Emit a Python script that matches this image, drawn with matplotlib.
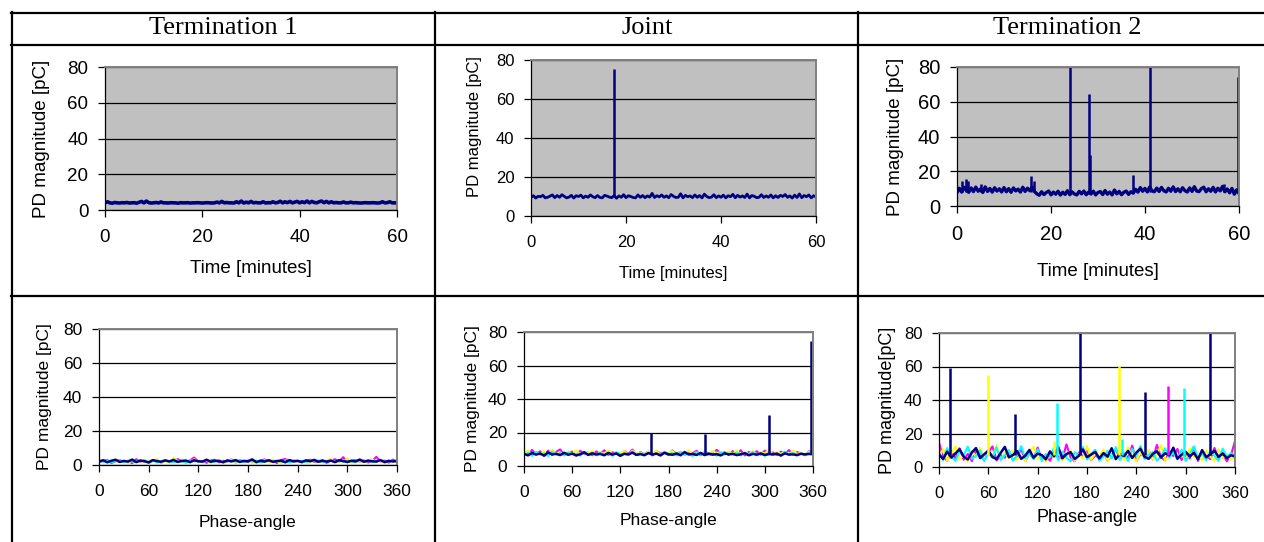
import numpy as np
import matplotlib
matplotlib.use("Agg")
import matplotlib.pyplot as plt
from matplotlib.lines import Line2D

plt.rcParams["font.family"] = ["Liberation Sans", "DejaVu Sans"]

W, H = 1264, 542

headers = ["Termination 1", "Joint", "Termination 2"]

# ---- top row: PD magnitude against time, one sample every 0.5 min ----
time_grid = np.linspace(0, 60, 121)

t1_time_pd = [
    4.0, 4.6, 4.0, 3.8, 4.2, 4.0, 3.9, 4.1, 4.0, 4.2,
    3.9, 4.0, 4.1, 3.8, 4.3, 4.8, 4.0, 5.0, 4.1, 3.9,
    4.0, 4.2, 3.9, 4.5, 4.0, 4.0, 3.9, 4.1, 4.0, 4.0,
    3.8, 4.1, 4.0, 4.0, 4.1, 3.9, 4.0, 4.0, 4.1, 4.0,
    3.9, 4.0, 4.1, 4.0, 3.9, 4.0, 4.4, 4.0, 4.8, 4.0,
    4.2, 4.0, 4.0, 3.9, 4.6, 4.0, 5.0, 3.9, 4.4, 4.0,
    4.8, 4.0, 4.2, 4.0, 4.0, 4.6, 3.9, 4.1, 4.0, 4.6,
    4.0, 4.2, 4.9, 4.0, 4.6, 4.1, 4.8, 4.0, 4.4, 4.8,
    4.0, 4.6, 4.1, 5.0, 4.0, 4.8, 4.2, 4.0, 4.6, 5.0,
    4.1, 4.8, 4.0, 4.6, 4.0, 4.2, 4.0, 4.0, 4.5, 4.0,
    4.0, 4.4, 4.0, 4.1, 4.0, 3.9, 4.0, 4.1, 4.0, 4.0,
    4.1, 4.0, 3.9, 4.0, 4.6, 4.0, 4.1, 4.6, 4.0, 4.0,
    4.0,
]

joint_time_pd = [
    9.5, 10.4, 9.2, 10.1, 9.9, 10.6, 9.3, 9.6, 10.2, 10.8,
    9.4, 10.5, 9.6, 10.9, 10.1, 9.3, 9.7, 10.6, 9.2, 10.4,
    10.0, 10.7, 9.3, 10.2, 9.6, 10.8, 9.9, 9.4, 10.5, 9.5,
    9.3, 10.6, 10.2, 9.7, 9.4, 10.5, 9.1, 10.3, 9.6, 10.9,
    9.4, 10.4, 10.0, 9.5, 9.3, 10.8, 9.6, 10.5, 9.4, 10.3,
    9.7, 11.6, 9.5, 10.4, 9.8, 10.8, 9.6, 10.3, 9.4, 11.0,
    10.1, 9.5, 9.6, 11.4, 9.3, 10.6, 9.9, 10.3, 9.4, 10.8,
    9.6, 10.5, 9.3, 11.2, 10.0, 9.4, 9.7, 10.9, 9.4, 10.3,
    9.6, 10.7, 9.3, 10.4, 9.9, 11.1, 9.4, 10.6, 9.7, 10.3,
    9.5, 11.2, 9.3, 10.5, 10.1, 9.4, 9.6, 10.9, 9.5, 10.3,
    9.6, 10.8, 9.3, 10.4, 9.5, 10.6, 10.0, 11.0, 9.6, 10.3,
    9.2, 10.7, 9.5, 11.3, 9.4, 10.5, 9.9, 10.8, 9.3, 10.4,
    9.8,
]
joint_spike_t = [17.45]
joint_spike_pd = [75.5]
joint_time_base = 10

t2_time_pd = [
    7.8, 10.2, 8.0, 10.8, 9.0, 7.9, 10.4, 8.3, 10.9, 8.5,
    9.8, 7.8, 11.0, 8.4, 10.1, 8.0, 10.5, 8.6, 9.9, 8.1,
    10.6, 8.2, 10.0, 7.9, 10.4, 8.7, 9.7, 8.0, 10.8, 8.4,
    10.2, 8.8, 10.9, 8.3, 7.0,
    6.2, 8.2, 6.6, 7.8, 8.6, 6.4, 8.0, 6.8, 8.5, 6.3,
    7.9, 6.7, 8.8, 6.5, 8.1, 6.9, 6.4, 8.4, 7.0, 8.6,
    6.5, 8.0, 6.9, 8.5, 6.4, 7.8, 8.3, 6.6, 8.9, 6.8,
    8.0, 6.4, 9.2, 7.0, 8.4, 6.5, 7.9, 8.6, 6.7, 8.2,
    7.4,
    9.6, 8.0, 10.6, 8.5, 10.1, 8.1, 10.9, 8.7, 8.2, 10.3,
    8.4, 10.7, 8.8, 8.1, 10.2, 8.5, 11.0, 8.3, 9.9, 8.2,
    10.5, 8.8, 8.1, 10.4, 8.4, 11.1, 8.6, 8.3, 10.0, 10.8,
    8.2, 9.9, 8.5, 10.7, 8.1, 10.2, 8.7, 11.3, 8.2, 9.8,
    7.6, 10.1, 6.8, 9.3, 7.2,
]
t2_spike_t = [1.0, 1.9, 2.3, 5.2, 15.7, 16.4, 24.0, 28.1, 28.4, 37.5,
              41.0, 56.9, 59.85, 59.95, 60.0]
t2_spike_pd = [14.5, 15.5, 14.5, 12.5, 17.5, 14.5, 82, 64.5, 29.5, 18,
               82, 12.5, 74, 60, 26]
t2_time_base = 8

# ---- bottom row: PD magnitude against phase angle, every 5 degrees ----
phase_grid = np.linspace(0, 360, 73)

t1_phase = {
    "magenta": [
        1.5, 2.4, 3.0, 1.2, 2.2, 2.8, 1.6, 2.5, 1.1, 3.4,
        2.0, 2.7, 1.4, 2.3, 3.0, 1.3, 2.6, 2.1, 1.7, 3.5,
        2.2, 1.5, 2.8, 4.4, 1.9, 2.4, 1.3, 2.7, 3.1, 1.6,
        2.5, 2.0, 3.2, 1.4, 2.8, 2.2, 1.8, 3.0, 1.5, 2.6,
        3.3, 1.9, 2.4, 1.2, 2.9, 3.6, 1.7, 2.3, 2.7, 1.4,
        2.5, 3.1, 1.8, 2.2, 2.9, 1.3, 2.6, 3.4, 2.0, 4.6,
        1.6, 2.4, 3.0, 1.9, 2.7, 1.5, 2.3, 4.8, 2.1, 2.6,
        1.4, 3.2, 2.0],
    "yellow": [
        1.8, 2.9, 1.3, 2.5, 3.3, 1.6, 2.2, 1.0, 2.8, 1.9,
        3.1, 1.5, 2.6, 2.0, 3.6, 1.4, 2.4, 1.2, 4.2, 2.3,
        1.7, 2.8, 1.3, 3.4, 2.1, 1.8, 2.7, 1.1, 2.5, 3.2,
        1.6, 2.3, 2.9, 1.4, 2.6, 1.9, 3.0, 1.2, 2.4, 1.7,
        2.8, 1.5, 3.3, 2.2, 1.3, 2.7, 1.8, 2.5, 3.1, 1.6,
        2.3, 1.4, 2.9, 2.0, 1.7, 2.6, 3.5, 1.5, 2.2, 1.9,
        3.8, 1.3, 2.7, 2.1, 1.6, 2.4, 3.2, 1.8, 2.5, 1.2,
        2.8, 1.9, 2.2],
    "cyan": [
        2.4, 1.9, 2.7, 1.6, 2.3, 2.9, 1.8, 2.5, 2.1, 1.7,
        2.8, 2.2, 1.9, 2.6, 1.5, 2.4, 2.7, 2.0, 1.8, 2.5,
        2.3, 1.6, 2.9, 2.1, 2.4, 1.7, 2.6, 2.2, 1.9, 2.8,
        1.6, 2.3, 2.5, 2.0, 2.7, 1.8, 2.4, 2.1, 2.6, 1.7,
        2.2, 2.9, 1.9, 2.5, 2.0, 2.3, 1.6, 2.8, 2.2, 2.4,
        1.8, 2.6, 2.1, 2.7, 1.9, 2.3, 2.5, 1.7, 2.4, 2.0,
        2.6, 2.2, 1.8, 2.9, 2.1, 2.5, 1.7, 2.3, 2.6, 1.9,
        2.2, 2.4, 2.0],
    "navy": [
        2.1, 2.8, 1.6, 2.5, 3.1, 1.8, 2.4, 2.0, 3.2, 1.7,
        2.6, 2.2, 1.5, 2.9, 2.3, 1.9, 2.7, 2.1, 3.0, 1.8,
        2.4, 2.6, 1.7, 2.8, 2.2, 2.0, 3.1, 1.9, 2.5, 2.3,
        1.6, 2.7, 2.1, 2.9, 1.8, 2.4, 2.2, 3.3, 1.7, 2.5,
        2.0, 2.8, 1.9, 2.3, 2.6, 1.6, 2.9, 2.1, 2.4, 1.8,
        2.7, 2.2, 3.0, 1.9, 2.5, 2.0, 2.6, 1.7, 2.8, 2.3,
        1.8, 2.5, 2.1, 3.2, 1.9, 2.6, 2.2, 2.0, 2.9, 1.7,
        2.4, 2.1, 2.3],
}

joint_phase = {
    "magenta": [
        8.1, 6.3, 9.6, 7.0, 8.8, 6.1, 9.2, 6.6, 8.4, 9.9,
        6.5, 7.8, 8.6, 6.2, 9.1, 7.3, 8.0, 6.4, 8.7, 7.1,
        9.4, 6.6, 8.2, 7.5, 6.0, 8.9, 7.2, 9.8, 6.7, 8.3,
        7.0, 8.6, 6.3, 9.0, 7.4, 8.1, 6.5, 9.3, 7.1, 8.5,
        6.8, 8.0, 7.6, 9.1, 6.4, 8.7, 7.2, 6.9, 9.6, 7.5,
        8.2, 6.6, 8.9, 7.0, 9.4, 6.3, 8.4, 7.3, 8.8, 6.7,
        9.2, 7.4, 8.1, 6.5, 8.6, 7.1, 9.5, 6.8, 8.3, 7.6,
        6.4, 8.8, 7.9],
    "yellow": [
        7.8, 9.2, 6.4, 8.5, 7.1, 8.9, 6.2, 9.7, 7.4, 8.1,
        6.6, 8.7, 7.3, 9.4, 6.8, 8.2, 7.6, 9.0, 6.3, 8.4,
        7.0, 9.6, 6.7, 8.3, 7.5, 8.8, 6.5, 9.1, 7.2, 8.0,
        6.9, 8.6, 7.4, 9.3, 6.4, 8.1, 7.7, 8.9, 6.6, 8.4,
        7.1, 9.5, 6.8, 8.2, 7.3, 8.7, 6.5, 9.0, 7.6, 8.3,
        6.9, 8.8, 7.2, 9.4, 6.3, 8.5, 7.0, 8.9, 6.7, 8.1,
        7.5, 9.7, 6.6, 8.4, 7.3, 8.6, 6.4, 9.2, 7.1, 8.0,
        6.8, 8.5, 7.4],
    "cyan": [
        6.5, 7.9, 6.1, 8.3, 6.8, 7.5, 6.0, 8.6, 6.7, 7.7,
        6.3, 8.1, 7.0, 7.4, 6.2, 8.4, 6.9, 7.6, 6.4, 8.0,
        6.6, 7.8, 6.1, 8.2, 7.1, 7.3, 6.5, 8.5, 6.8, 7.6,
        6.2, 8.0, 6.9, 7.5, 6.4, 8.3, 7.0, 7.7, 6.3, 8.1,
        6.7, 7.4, 6.0, 8.4, 6.8, 7.9, 6.5, 7.6, 6.2, 8.2,
        7.0, 7.5, 6.6, 8.0, 6.3, 7.8, 6.9, 8.3, 6.4, 7.7,
        6.1, 8.1, 6.7, 7.4, 6.5, 8.6, 6.8, 7.9, 6.3, 7.6,
        6.6, 8.0, 6.9],
    "navy": [
        7.2, 6.4, 7.8, 6.8, 7.5, 6.2, 8.1, 6.9, 7.3, 6.5,
        7.9, 6.7, 7.4, 6.3, 7.0, 8.2, 6.6, 7.6, 6.9, 7.2,
        6.4, 7.8, 6.8, 7.5, 6.1, 7.3, 6.9, 8.0, 6.6, 7.1,
        6.5, 7.7, 6.8, 7.4, 6.3, 7.9, 7.0, 6.7, 7.5, 6.4,
        8.3, 6.9, 7.2, 6.6, 7.8, 6.5, 7.4, 6.8, 7.1, 6.3,
        7.6, 6.9, 7.3, 6.5, 7.0, 7.7, 6.4, 7.2, 6.8, 7.5,
        6.6, 7.1, 6.9, 7.4, 6.2, 7.6, 6.8, 7.0, 6.5, 7.3,
        6.9, 7.2, 7.0],
}
joint_phase_spikes = {"navy": ([158, 226, 305, 358], [20, 19, 30.5, 74.5])}
joint_phase_base = 7

t2_phase = {
    "magenta": [
        14.5, 6.2, 3.8, 9.5, 5.1, 11.2, 4.3, 7.8, 3.5, 10.1,
        6.7, 4.2, 8.9, 12.3, 3.9, 7.1, 5.5, 9.8, 4.0, 6.4,
        10.7, 3.6, 8.2, 5.0, 11.6, 4.4, 7.5, 3.7, 9.1, 6.0,
        4.8, 13.5, 5.7, 3.4, 8.6, 6.3, 10.4, 4.1, 7.0, 5.2,
        9.3, 3.8, 6.8, 11.0, 4.6, 8.0, 5.4, 12.8, 3.5, 7.7,
        6.1, 9.9, 4.5, 13.2, 5.8, 3.9, 8.4, 6.6, 10.8, 4.2,
        7.3, 5.1, 12.1, 3.6, 9.0, 6.5, 4.7, 11.4, 5.3, 8.1,
        3.4, 6.9, 15.5],
    "yellow": [
        5.5, 10.8, 3.9, 8.0, 12.4, 4.6, 7.2, 3.3, 9.6, 5.9,
        11.5, 4.1, 7.7, 6.3, 13.0, 3.8, 8.8, 5.2, 10.1, 4.4,
        6.9, 3.5, 9.3, 12.0, 4.9, 7.4, 3.2, 8.5, 5.6, 11.1,
        4.0, 6.6, 9.9, 3.6, 7.9, 5.0, 12.6, 4.3, 8.2, 6.1,
        10.5, 3.7, 7.1, 5.4, 9.4, 4.2, 11.8, 6.8, 3.4, 8.7,
        5.3, 10.2, 4.5, 7.6, 12.9, 3.9, 6.4, 9.1, 4.8, 8.3,
        3.5, 11.0, 5.7, 7.0, 4.1, 9.8, 6.2, 3.6, 10.6, 5.1,
        7.8, 4.4, 9.0],
    "cyan": [
        8.6, 4.1, 11.3, 6.0, 3.7, 9.4, 7.2, 12.2, 4.8, 6.5,
        10.0, 3.5, 8.3, 5.6, 11.7, 4.3, 7.0, 9.9, 3.9, 6.8,
        12.5, 5.2, 8.1, 4.6, 10.6, 3.6, 7.5, 6.2, 11.4, 4.0,
        9.2, 5.7, 3.4, 8.8, 6.9, 12.0, 4.5, 7.8, 10.3, 3.8,
        6.4, 9.6, 5.1, 11.9, 4.2, 8.5, 3.5, 10.8, 6.6, 12.6,
        4.7, 7.3, 9.0, 3.9, 6.1, 11.2, 5.5, 8.9, 4.4, 10.4,
        3.7, 7.6, 12.3, 5.0, 8.2, 4.1, 9.5, 6.7, 3.6, 11.0,
        5.8, 8.4, 4.9],
    "navy": [
        7.5, 4.8, 9.2, 5.6, 8.1, 10.6, 6.2, 4.5, 8.7, 11.3,
        5.3, 7.6, 9.8, 6.0, 4.7, 8.4, 12.0, 5.8, 7.2, 9.5,
        4.9, 6.8, 10.2, 5.5, 8.0, 7.1, 4.6, 9.3, 6.4, 11.8,
        5.2, 7.7, 8.9, 4.8, 6.6, 10.5, 5.9, 7.4, 9.0, 5.1,
        8.3, 6.2, 11.2, 4.7, 7.9, 6.5, 9.6, 5.4, 8.6, 10.9,
        6.1, 4.9, 7.8, 9.4, 5.7, 8.2, 6.9, 11.5, 5.0, 7.3,
        9.1, 6.3, 8.5, 4.6, 10.1, 5.8, 7.6, 9.7, 6.0, 8.1,
        5.3, 7.0, 6.4],
}
t2_phase_spikes = {
    "yellow": ([60, 140, 219], [55, 15.5, 60.5]),
    "cyan": ([143, 222, 298], [38.5, 16.5, 47]),
    "magenta": ([278], [48.5]),
    "navy": ([13, 93, 172, 250, 329], [59, 31.5, 82, 44.5, 82]),
}
t2_phase_base = 7

colors = {"magenta": "#FF00FF", "yellow": "#FFFF00", "cyan": "#00FFFF", "navy": "#000080"}
series_order = ["magenta", "yellow", "cyan", "navy"]


def add_axes_px(fig, left, top, right, bottom):
    return fig.add_axes([left / W, 1 - bottom / H, (right - left) / W, (bottom - top) / H])


def style_axes(ax, grey_bg, xticks, tick_fs, label_fs, xlabel, ylabel, xlab_y, ylab_x, ylab_y):
    ax.set_facecolor("#C0C0C0" if grey_bg else "white")
    ax.set_ylim(0, 80)
    ax.set_yticks([0, 20, 40, 60, 80])
    ax.set_xlim(xticks[0], xticks[-1])
    ax.set_xticks(xticks)
    ax.set_axisbelow(True)
    ax.yaxis.grid(True, color="black", lw=0.9)
    for side in ["left", "bottom"]:
        ax.spines[side].set_color("black")
        ax.spines[side].set_linewidth(0.9)
    for side in ["top", "right"]:
        ax.spines[side].set_color("#808080")
        ax.spines[side].set_linewidth(1.4)
    ax.tick_params(axis="both", direction="out", length=5, width=0.9,
                   labelsize=tick_fs, colors="black")
    ax.tick_params(axis="y", pad=7)
    ax.tick_params(axis="x", pad=9)
    ax.set_xlabel(xlabel, fontsize=label_fs)
    ax.set_ylabel(ylabel, fontsize=label_fs)
    ax.xaxis.set_label_coords(0.5, xlab_y)
    ax.xaxis.label.set_va("center")
    ax.yaxis.set_label_coords(ylab_x, ylab_y)
    ax.yaxis.label.set_va("center")


fig = plt.figure(figsize=(W / 100, H / 100), dpi=100)

# table grid
def hline(y, x0=11, x1=W):
    fig.add_artist(Line2D([x0 / W, x1 / W], [1 - y / H, 1 - y / H], color="black", lw=1.6,
                          transform=fig.transFigure))


def vline(x, y0=12, y1=H):
    fig.add_artist(Line2D([x / W, x / W], [1 - y0 / H, 1 - y1 / H], color="black", lw=1.6,
                          transform=fig.transFigure))


hline(13)
hline(45)
hline(296)
vline(12)
vline(435)
vline(858)

for cx, name in zip([223, 647, 1067], headers):
    fig.text(cx / W, 1 - 28 / H, name, ha="center", va="center",
             fontsize=19, family="Liberation Serif")

time_ticks = [0, 20, 40, 60]
phase_ticks = [0, 60, 120, 180, 240, 300, 360]

# Termination 1 vs time
ax = add_axes_px(fig, 105, 67, 397, 210)
ax.plot(time_grid, t1_time_pd, color="#000080", lw=2.6)
style_axes(ax, True, time_ticks, 13.5, 13.5, "Time [minutes]", "PD magnitude [pC]",
           -(268 - 210) / 143, -(105 - 42) / 292, 0.5)

# Joint vs time
ax = add_axes_px(fig, 531, 60, 816, 216)
ax.plot(time_grid, joint_time_pd, color="#000080", lw=2.0)
ax.vlines(joint_spike_t, joint_time_base, joint_spike_pd, color="#000080", lw=1.8)
style_axes(ax, True, time_ticks, 12, 12, "Time [minutes]", "PD magnitude [pC]",
           -(274 - 216) / 156, -(531 - 475) / 285, (216 - 127) / 156)

# Termination 2 vs time
ax = add_axes_px(fig, 957, 67, 1239, 206)
ax.plot(time_grid, t2_time_pd, color="#000080", lw=2.4)
ax.vlines(t2_spike_t, t2_time_base, t2_spike_pd, color="#000080", lw=1.8)
style_axes(ax, True, time_ticks, 14.5, 13.5, "Time [minutes]", "PD magnitude [pC]",
           -(271 - 206) / 139, -(957 - 895) / 282, 0.5)

# phase plots
phase_panels = [
    ((99, 329, 397, 465), t1_phase, {}, 0, 12.5, 12.5, "PD magnitude [pC]", 522, 45),
    ((524, 332, 813, 466), joint_phase, joint_phase_spikes, joint_phase_base, 12.5, 12.5,
     "PD magnitude [pC]", 521, 473),
    ((939, 333, 1235, 467), t2_phase, t2_phase_spikes, t2_phase_base, 12, 13,
     "PD magnitude[pC]", 518, 888),
]
for (l, t, r, b), data, spikes, base, tfs, lfs, ylab, xl_y, yl_x in phase_panels:
    ax = add_axes_px(fig, l, t, r, b)
    for key in series_order:
        ax.plot(phase_grid, data[key], color=colors[key], lw=1.8 if key == "navy" else 1.5)
    for key in series_order:
        if key in spikes:
            xs, ys = spikes[key]
            ax.vlines(xs, base, ys, color=colors[key], lw=1.8)
    style_axes(ax, False, phase_ticks, tfs, lfs, "Phase-angle", ylab,
               -(xl_y - b) / (b - t), -(l - yl_x) / (r - l), 0.5)

fig.savefig("out.png", dpi=100)
